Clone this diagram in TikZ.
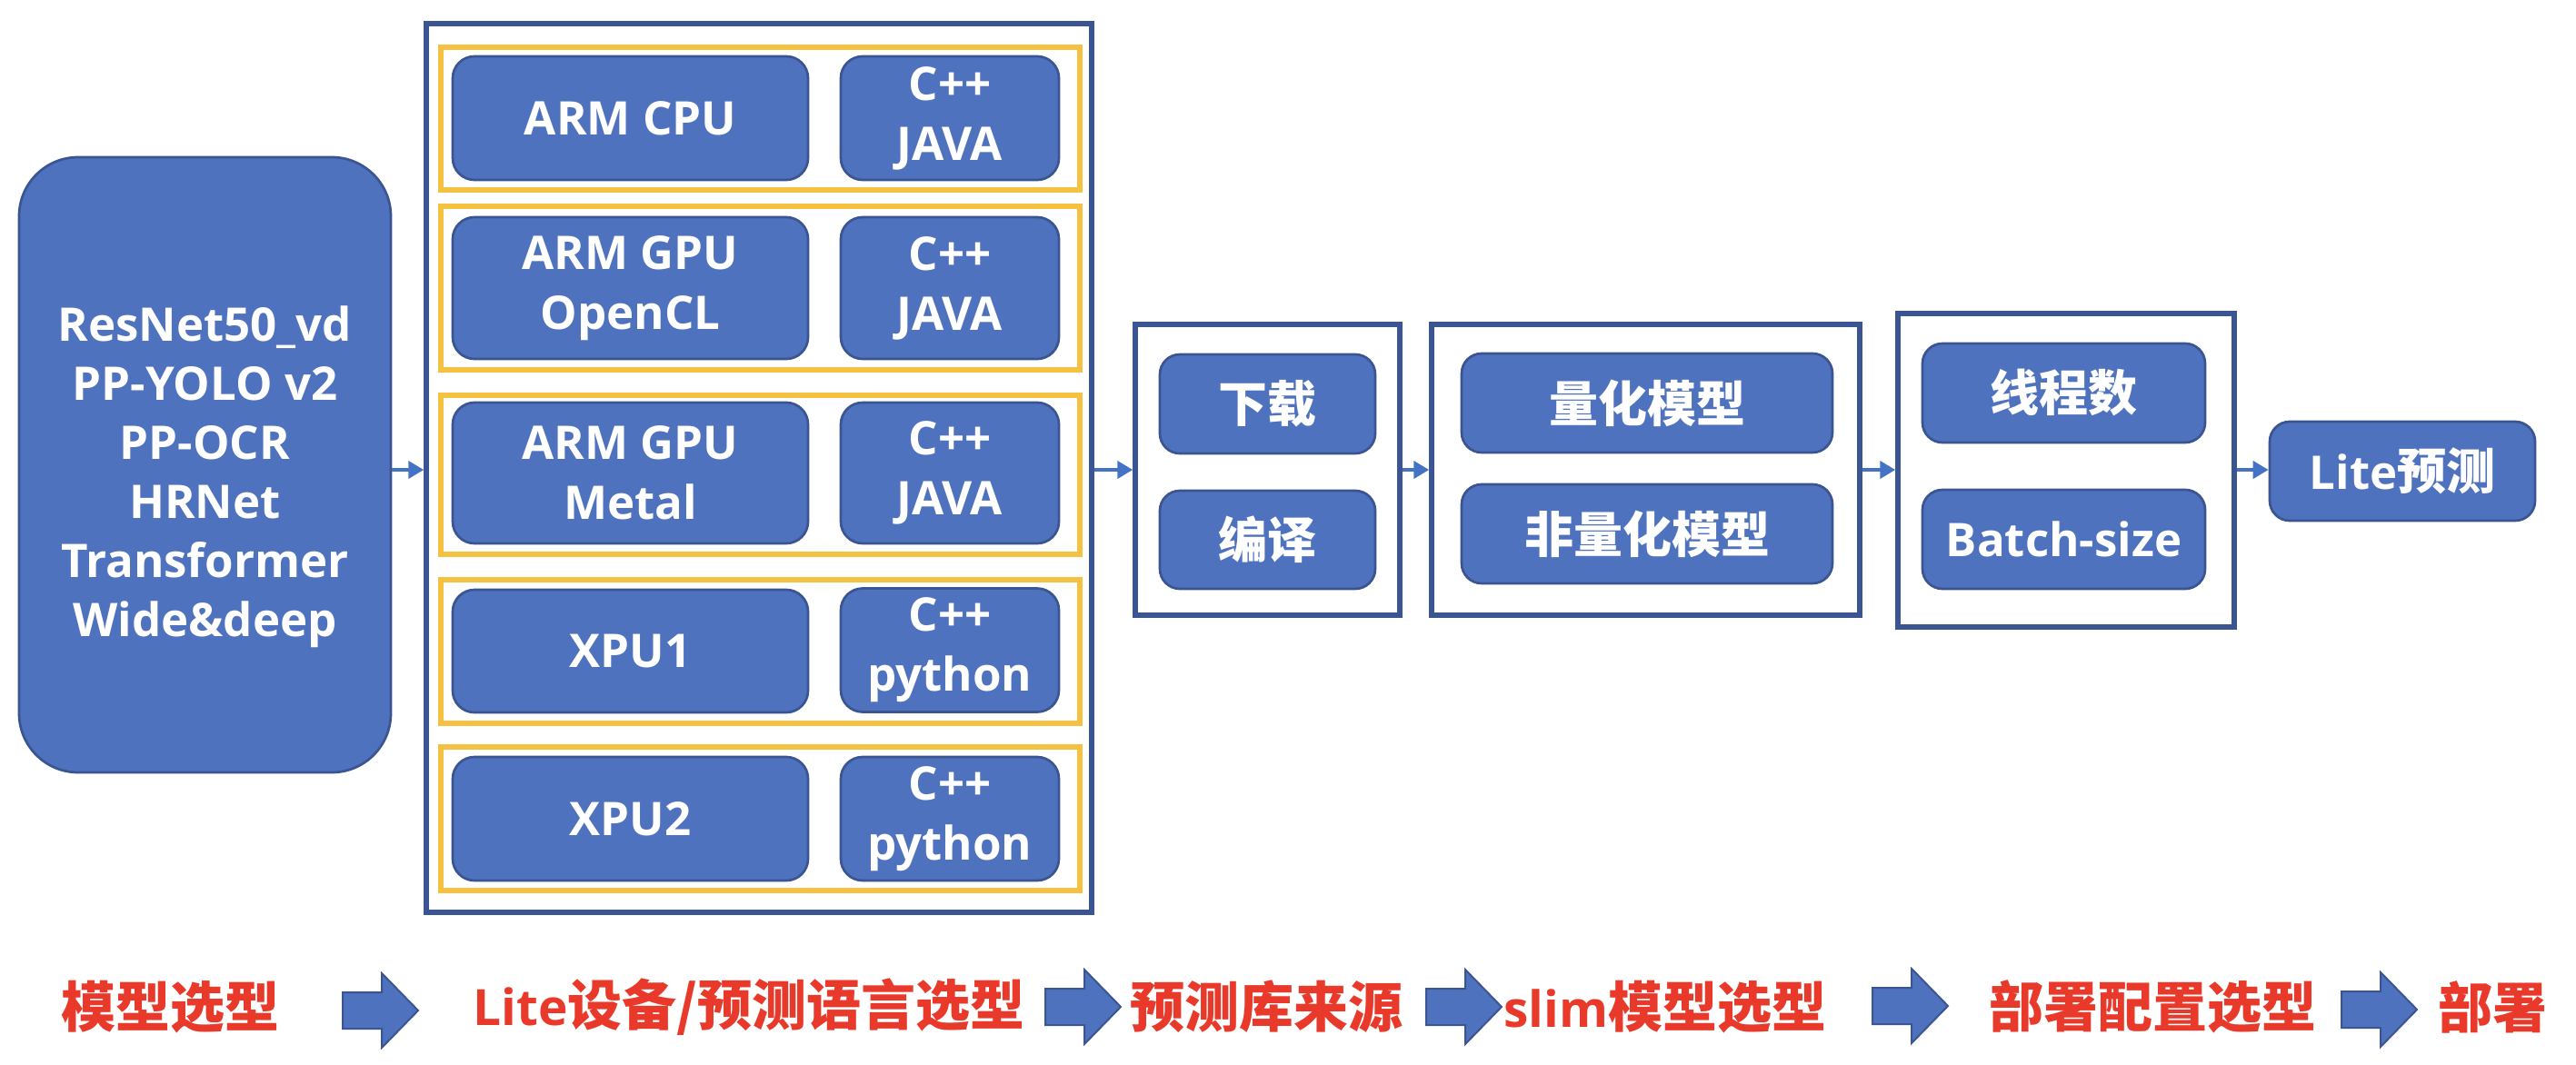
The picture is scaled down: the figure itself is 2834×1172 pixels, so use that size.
\documentclass[tikz,border=0pt]{standalone}
\usepackage{fontspec}
\setmainfont{Open Sans}
\newfontfamily\cjk{Noto Sans CJK SC}
\usetikzlibrary{arrows.meta}
\definecolor{bl}{HTML}{4F72BE}
\definecolor{bd}{HTML}{3A5591}
\definecolor{yl}{HTML}{F4C141}
\definecolor{ar}{HTML}{4472C4}
\definecolor{rd}{HTML}{E8392A}
\newcommand\wz[1]{{\cjk\bfseries\fontsize{54}{66}\selectfont #1}}
\newcommand\rz[1]{{\cjk\bfseries\fontsize{60}{70}\selectfont #1}}
\tikzset{
  bbox/.style={draw=bd, line width=2.7pt, fill=bl, rounded corners=24pt,
    text=white, font=\bfseries\fontsize{51}{66}\selectfont, align=center, inner sep=0pt},
  ybox/.style={draw=yl, line width=5.5pt, inner sep=0pt, minimum width=703pt},
  obox/.style={draw=bd, line width=5.5pt, inner sep=0pt},
  wtxt/.style={text=white, font=\bfseries\fontsize{51}{65}\selectfont, align=center, inner sep=0pt},
  rtxt/.style={text=rd, font=\bfseries\fontsize{55}{66}\selectfont, inner sep=0pt},
  conn/.style={draw=ar, line width=4pt, -{Triangle[length=17pt,width=19pt]}},
  barrow/.style={fill=bl, draw=bd, line width=2pt, line join=miter},
}
\begin{document}
\begin{tikzpicture}[x=1pt,y=-1pt]
\useasboundingbox (0,0) rectangle (2834,1172);

% model box
\node[bbox, rounded corners=65pt, minimum width=409pt, minimum height=677pt] (models) at (225.5,511.5) {};
\node[wtxt] (modelstxt) at (225.5,525) {ResNet50\_vd\\PP-YOLO v2\\PP-OCR\\HRNet\\Transformer\\Wide\&deep};

% device box
\node[obox, minimum width=732pt, minimum height=978pt] (dev) at (835,515) {};
\node[ybox, minimum height=157pt] (y1) at (836.5,130.5) {};
\node[ybox, minimum height=180pt] (y2) at (836.5,317) {};
\node[ybox, minimum height=175pt] (y3) at (836.5,522.5) {};
\node[ybox, minimum height=158pt] (y4) at (836.5,717) {};
\node[ybox, minimum height=158pt] (y5) at (836.5,901) {};

\node[bbox, minimum width=391pt, minimum height=136pt] (d1) at (693.5,130) {ARM CPU};
\node[bbox, minimum width=240pt, minimum height=136pt] (l1) at (1045,130) {C++\\JAVA};
\node[bbox, minimum width=391pt, minimum height=156pt] (d2) at (693.5,317) {ARM GPU\\OpenCL};
\node[bbox, minimum width=240pt, minimum height=156pt] (l2) at (1045,317) {C++\\JAVA};
\node[bbox, minimum width=391pt, minimum height=155pt] (d3) at (693.5,520.5) {ARM GPU\\Metal};
\node[bbox, minimum width=240pt, minimum height=155pt] (l3) at (1045,520.5) {C++\\JAVA};
\node[bbox, minimum width=391pt, minimum height=135pt] (d4) at (693.5,716.5) {XPU1};
\node[bbox, minimum width=240pt, minimum height=136pt] (l4) at (1045,715.5) {C++\\python};
\node[bbox, minimum width=391pt, minimum height=136pt] (d5) at (693.5,901) {XPU2};
\node[bbox, minimum width=240pt, minimum height=136pt] (l5) at (1045,901) {C++\\python};

% library source
\node[obox, minimum width=291pt, minimum height=320pt] (src) at (1394.5,517) {};
\node[bbox, rounded corners=22pt, minimum width=237pt, minimum height=109pt] (dl) at (1394.5,444.5) {\wz{下载}};
\node[bbox, rounded corners=22pt, minimum width=237pt, minimum height=108pt] (cp) at (1394.5,594) {\wz{编译}};

% slim model
\node[obox, minimum width=471pt, minimum height=320pt] (slim) at (1810.5,517) {};
\node[bbox, rounded corners=22pt, minimum width=408pt, minimum height=109pt] (q) at (1812,443.5) {\wz{量化模型}};
\node[bbox, rounded corners=22pt, minimum width=408pt, minimum height=109pt] (nq) at (1812,587.5) {\wz{非量化模型}};

% deploy config
\node[obox, minimum width=370pt, minimum height=345pt] (cfg) at (2273,517.5) {};
\node[bbox, rounded corners=22pt, minimum width=311pt, minimum height=109pt] (th) at (2270.5,432.5) {\wz{线程数}};
\node[bbox, rounded corners=22pt, minimum width=311pt, minimum height=109pt] (bs) at (2270.5,593.5) {Batch-size};

% lite predict
\node[bbox, rounded corners=22pt, minimum width=292pt, minimum height=109pt] (lp) at (2643,518.5) {Lite\wz{预测}};

% connectors
\draw[conn] (models.east |- 0,517) -- (dev.west |- 0,517);
\draw[conn] (dev.east |- 0,517) -- (src.west |- 0,517);
\draw[conn] (src.east |- 0,517) -- (slim.west |- 0,517);
\draw[conn] (slim.east |- 0,517) -- (cfg.west |- 0,517);
\draw[conn] (cfg.east |- 0,517) -- (lp.west |- 0,517);

% bottom row labels
\node[rtxt] (s1) at (187,1108) {\rz{模型选型}};
\node[rtxt] (s2) at (824,1108) {Lite\rz{设备/预测语言选型}};
\node[rtxt] (s3) at (1393,1108) {\rz{预测库来源}};
\node[rtxt] (s4) at (1832,1108) {slim\rz{模型选型}};
\node[rtxt] (s5) at (2368,1108) {\rz{部署配置选型}};
\node[rtxt] (s6) at (2742,1108) {\rz{部署}};

% block arrows
\coordinate (b1) at (377,1112);
\coordinate (b2) at (1150,1108);
\coordinate (b3) at (1569,1108);
\coordinate (b4) at (2060,1107);
\coordinate (b5) at (2576,1111);
\foreach \b in {b1,b2,b3,b4,b5}{
  \draw[barrow] (\b) ++(0,-20) -- ++(43,0) -- ++(0,-21) -- ++(40,41) -- ++(-40,41) -- ++(0,-21) -- ++(-43,0) -- cycle;
}
\end{tikzpicture}
\end{document}
